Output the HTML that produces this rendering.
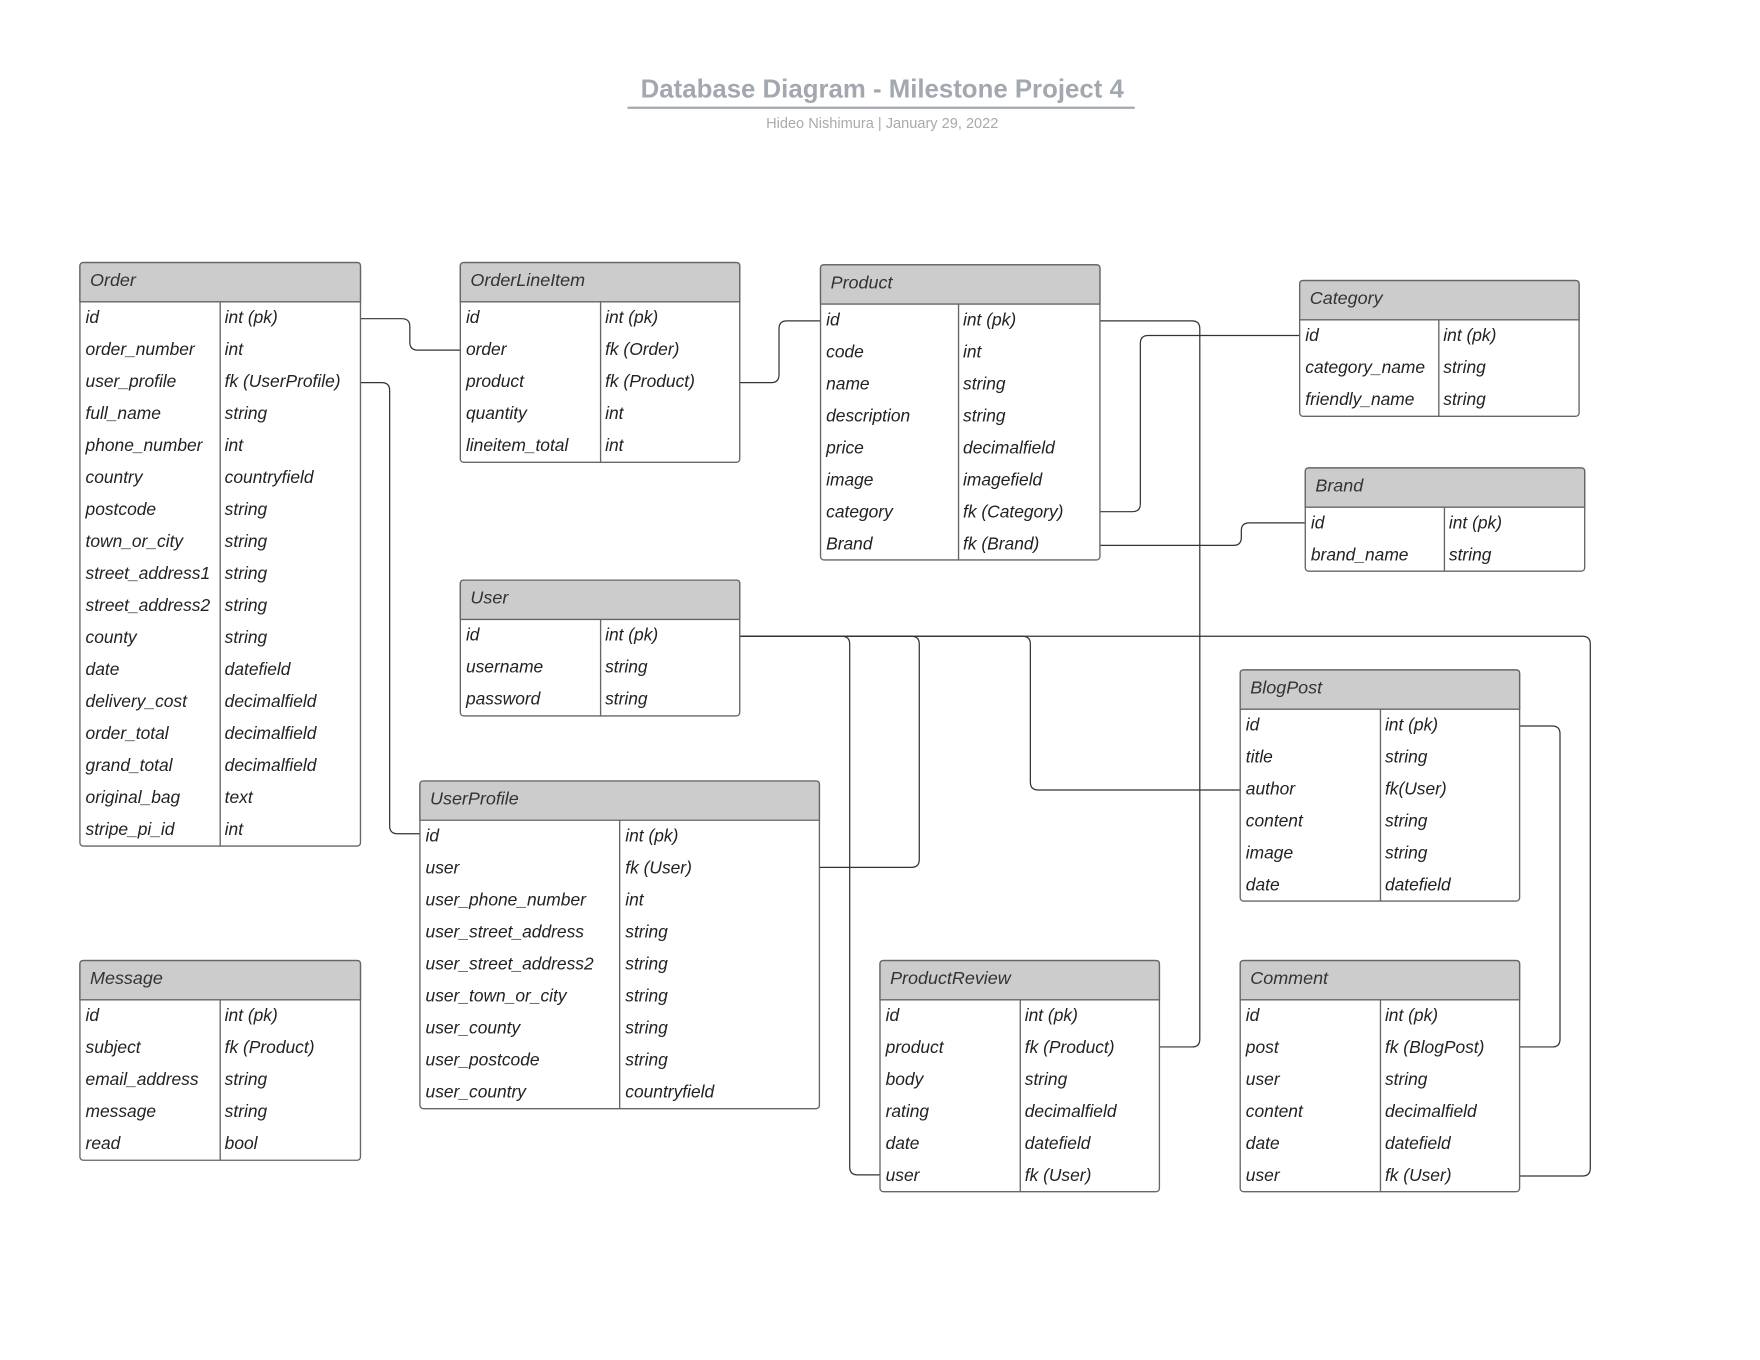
<!DOCTYPE html>
<html><head><meta charset="utf-8"><style>
html,body{margin:0;padding:0;background:#fff;}
svg{display:block;}
text{font-family:"Liberation Sans",sans-serif;}
.t{font-size:15.5px;font-style:italic;fill:#222;}
.h{font-size:16px;font-style:italic;fill:#333;}
.b{fill:#fff;stroke:#666;stroke-width:1.2;}
.hd{fill:#cccccc;stroke:#666;stroke-width:1.2;}
.ln{stroke:#666;stroke-width:1.2;fill:none;}
.c{fill:none;stroke:#333;stroke-width:1.1;}
</style></head><body>
<svg width="1760" height="1360" viewBox="0 0 1568 1212" xmlns="http://www.w3.org/2000/svg">
<text x="786" y="87" text-anchor="middle" style="font-size:23px;font-weight:bold;fill:#a3a8b0">Database Diagram - Milestone Project 4</text>
<line x1="559" y1="96" x2="1011" y2="96" stroke="#a3a8b0" stroke-width="2"/>
<text x="786" y="114" text-anchor="middle" style="font-size:13px;fill:#aaa">Hideo Nishimura  |  January 29, 2022</text>

<!-- connectors -->
<path class="c" d="M321,284 H358 Q365,284 365,291 V305 Q365,312 372,312 H410"/>
<path class="c" d="M321,341 H340 Q347,341 347,348 V736 Q347,743 354,743 H374"/>
<path class="c" d="M659,341 H687 Q694,341 694,334 V293 Q694,286 701,286 H731"/>
<path class="c" d="M980,286 H1062 Q1069,286 1069,293 V926 Q1069,933 1062,933 H1033"/>
<path class="c" d="M1158,299 H1023 Q1016,299 1016,306 V449 Q1016,456 1009,456 H980"/>
<path class="c" d="M1163,466 H1113 Q1106,466 1106,473 V479 Q1106,486 1099,486 H980"/>
<path class="c" d="M659,567 H1410 Q1417,567 1417,574 V1041 Q1417,1048 1410,1048 H1354"/>
<path class="c" d="M659,567 H812 Q819,567 819,574 V766 Q819,773 812,773 H730"/>
<path class="c" d="M659,567 H750 Q757,567 757,574 V1040 Q757,1047 764,1047 H784"/>
<path class="c" d="M659,567 H911 Q918,567 918,574 V697 Q918,704 925,704 H1105"/>
<path class="c" d="M1354,647 H1383 Q1390,647 1390,654 V926 Q1390,933 1383,933 H1354"/>

<!-- Order -->
<g transform="translate(71,234)">
<rect class="b" x="0" y="0" width="250" height="520" rx="3"/>
<path class="hd" d="M0,35 V3 Q0,0 3,0 H247 Q250,0 250,3 V35 Z"/>
<line class="ln" x1="125" y1="35" x2="125" y2="520"/>
<text class="h" x="9" y="21">Order</text>
<g class="t">
<text x="5" y="54">id</text><text x="129" y="54">int (pk)</text>
<text x="5" y="82.5">order_number</text><text x="129" y="82.5">int</text>
<text x="5" y="111">user_profile</text><text x="129" y="111">fk (UserProfile)</text>
<text x="5" y="139.5">full_name</text><text x="129" y="139.5">string</text>
<text x="5" y="168">phone_number</text><text x="129" y="168">int</text>
<text x="5" y="196.5">country</text><text x="129" y="196.5">countryfield</text>
<text x="5" y="225">postcode</text><text x="129" y="225">string</text>
<text x="5" y="253.5">town_or_city</text><text x="129" y="253.5">string</text>
<text x="5" y="282">street_address1</text><text x="129" y="282">string</text>
<text x="5" y="310.5">street_address2</text><text x="129" y="310.5">string</text>
<text x="5" y="339">county</text><text x="129" y="339">string</text>
<text x="5" y="367.5">date</text><text x="129" y="367.5">datefield</text>
<text x="5" y="396">delivery_cost</text><text x="129" y="396">decimalfield</text>
<text x="5" y="424.5">order_total</text><text x="129" y="424.5">decimalfield</text>
<text x="5" y="453">grand_total</text><text x="129" y="453">decimalfield</text>
<text x="5" y="481.5">original_bag</text><text x="129" y="481.5">text</text>
<text x="5" y="510">stripe_pi_id</text><text x="129" y="510">int</text>
</g></g>

<!-- OrderLineItem -->
<g transform="translate(410,234)">
<rect class="b" x="0" y="0" width="249" height="178" rx="3"/>
<path class="hd" d="M0,35 V3 Q0,0 3,0 H246 Q249,0 249,3 V35 Z"/>
<line class="ln" x1="125" y1="35" x2="125" y2="178"/>
<text class="h" x="9" y="21">OrderLineItem</text>
<g class="t">
<text x="5" y="54">id</text><text x="129" y="54">int (pk)</text>
<text x="5" y="82.5">order</text><text x="129" y="82.5">fk (Order)</text>
<text x="5" y="111">product</text><text x="129" y="111">fk (Product)</text>
<text x="5" y="139.5">quantity</text><text x="129" y="139.5">int</text>
<text x="5" y="168">lineitem_total</text><text x="129" y="168">int</text>
</g></g>

<!-- Product -->
<g transform="translate(731,236)">
<rect class="b" x="0" y="0" width="249" height="263" rx="3"/>
<path class="hd" d="M0,35 V3 Q0,0 3,0 H246 Q249,0 249,3 V35 Z"/>
<line class="ln" x1="123" y1="35" x2="123" y2="263"/>
<text class="h" x="9" y="21">Product</text>
<g class="t">
<text x="5" y="54">id</text><text x="127" y="54">int (pk)</text>
<text x="5" y="82.5">code</text><text x="127" y="82.5">int</text>
<text x="5" y="111">name</text><text x="127" y="111">string</text>
<text x="5" y="139.5">description</text><text x="127" y="139.5">string</text>
<text x="5" y="168">price</text><text x="127" y="168">decimalfield</text>
<text x="5" y="196.5">image</text><text x="127" y="196.5">imagefield</text>
<text x="5" y="225">category</text><text x="127" y="225">fk (Category)</text>
<text x="5" y="253.5">Brand</text><text x="127" y="253.5">fk (Brand)</text>
</g></g>

<!-- Category -->
<g transform="translate(1158,250)">
<rect class="b" x="0" y="0" width="249" height="121" rx="3"/>
<path class="hd" d="M0,35 V3 Q0,0 3,0 H246 Q249,0 249,3 V35 Z"/>
<line class="ln" x1="124" y1="35" x2="124" y2="121"/>
<text class="h" x="9" y="21">Category</text>
<g class="t">
<text x="5" y="54">id</text><text x="128" y="54">int (pk)</text>
<text x="5" y="82.5">category_name</text><text x="128" y="82.5">string</text>
<text x="5" y="111">friendly_name</text><text x="128" y="111">string</text>
</g></g>

<!-- Brand -->
<g transform="translate(1163,417)">
<rect class="b" x="0" y="0" width="249" height="92" rx="3"/>
<path class="hd" d="M0,35 V3 Q0,0 3,0 H246 Q249,0 249,3 V35 Z"/>
<line class="ln" x1="124" y1="35" x2="124" y2="92"/>
<text class="h" x="9" y="21">Brand</text>
<g class="t">
<text x="5" y="54">id</text><text x="128" y="54">int (pk)</text>
<text x="5" y="82.5">brand_name</text><text x="128" y="82.5">string</text>
</g></g>

<!-- User -->
<g transform="translate(410,517)">
<rect class="b" x="0" y="0" width="249" height="121" rx="3"/>
<path class="hd" d="M0,35 V3 Q0,0 3,0 H246 Q249,0 249,3 V35 Z"/>
<line class="ln" x1="125" y1="35" x2="125" y2="121"/>
<text class="h" x="9" y="21">User</text>
<g class="t">
<text x="5" y="54">id</text><text x="129" y="54">int (pk)</text>
<text x="5" y="82.5">username</text><text x="129" y="82.5">string</text>
<text x="5" y="111">password</text><text x="129" y="111">string</text>
</g></g>

<!-- BlogPost -->
<g transform="translate(1105,597)">
<rect class="b" x="0" y="0" width="249" height="206" rx="3"/>
<path class="hd" d="M0,35 V3 Q0,0 3,0 H246 Q249,0 249,3 V35 Z"/>
<line class="ln" x1="125" y1="35" x2="125" y2="206"/>
<text class="h" x="9" y="21">BlogPost</text>
<g class="t">
<text x="5" y="54">id</text><text x="129" y="54">int (pk)</text>
<text x="5" y="82.5">title</text><text x="129" y="82.5">string</text>
<text x="5" y="111">author</text><text x="129" y="111">fk(User)</text>
<text x="5" y="139.5">content</text><text x="129" y="139.5">string</text>
<text x="5" y="168">image</text><text x="129" y="168">string</text>
<text x="5" y="196.5">date</text><text x="129" y="196.5">datefield</text>
</g></g>

<!-- UserProfile -->
<g transform="translate(374,696)">
<rect class="b" x="0" y="0" width="356" height="292" rx="3"/>
<path class="hd" d="M0,35 V3 Q0,0 3,0 H353 Q356,0 356,3 V35 Z"/>
<line class="ln" x1="178" y1="35" x2="178" y2="292"/>
<text class="h" x="9" y="21">UserProfile</text>
<g class="t">
<text x="5" y="54">id</text><text x="183" y="54">int (pk)</text>
<text x="5" y="82.5">user</text><text x="183" y="82.5">fk (User)</text>
<text x="5" y="111">user_phone_number</text><text x="183" y="111">int</text>
<text x="5" y="139.5">user_street_address</text><text x="183" y="139.5">string</text>
<text x="5" y="168">user_street_address2</text><text x="183" y="168">string</text>
<text x="5" y="196.5">user_town_or_city</text><text x="183" y="196.5">string</text>
<text x="5" y="225">user_county</text><text x="183" y="225">string</text>
<text x="5" y="253.5">user_postcode</text><text x="183" y="253.5">string</text>
<text x="5" y="282">user_country</text><text x="183" y="282">countryfield</text>
</g></g>

<!-- Message -->
<g transform="translate(71,856)">
<rect class="b" x="0" y="0" width="250" height="178" rx="3"/>
<path class="hd" d="M0,35 V3 Q0,0 3,0 H247 Q250,0 250,3 V35 Z"/>
<line class="ln" x1="125" y1="35" x2="125" y2="178"/>
<text class="h" x="9" y="21">Message</text>
<g class="t">
<text x="5" y="54">id</text><text x="129" y="54">int (pk)</text>
<text x="5" y="82.5">subject</text><text x="129" y="82.5">fk (Product)</text>
<text x="5" y="111">email_address</text><text x="129" y="111">string</text>
<text x="5" y="139.5">message</text><text x="129" y="139.5">string</text>
<text x="5" y="168">read</text><text x="129" y="168">bool</text>
</g></g>

<!-- ProductReview -->
<g transform="translate(784,856)">
<rect class="b" x="0" y="0" width="249" height="206" rx="3"/>
<path class="hd" d="M0,35 V3 Q0,0 3,0 H246 Q249,0 249,3 V35 Z"/>
<line class="ln" x1="125" y1="35" x2="125" y2="206"/>
<text class="h" x="9" y="21">ProductReview</text>
<g class="t">
<text x="5" y="54">id</text><text x="129" y="54">int (pk)</text>
<text x="5" y="82.5">product</text><text x="129" y="82.5">fk (Product)</text>
<text x="5" y="111">body</text><text x="129" y="111">string</text>
<text x="5" y="139.5">rating</text><text x="129" y="139.5">decimalfield</text>
<text x="5" y="168">date</text><text x="129" y="168">datefield</text>
<text x="5" y="196.5">user</text><text x="129" y="196.5">fk (User)</text>
</g></g>

<!-- Comment -->
<g transform="translate(1105,856)">
<rect class="b" x="0" y="0" width="249" height="206" rx="3"/>
<path class="hd" d="M0,35 V3 Q0,0 3,0 H246 Q249,0 249,3 V35 Z"/>
<line class="ln" x1="125" y1="35" x2="125" y2="206"/>
<text class="h" x="9" y="21">Comment</text>
<g class="t">
<text x="5" y="54">id</text><text x="129" y="54">int (pk)</text>
<text x="5" y="82.5">post</text><text x="129" y="82.5">fk (BlogPost)</text>
<text x="5" y="111">user</text><text x="129" y="111">string</text>
<text x="5" y="139.5">content</text><text x="129" y="139.5">decimalfield</text>
<text x="5" y="168">date</text><text x="129" y="168">datefield</text>
<text x="5" y="196.5">user</text><text x="129" y="196.5">fk (User)</text>
</g></g>
</svg>
</body></html>
